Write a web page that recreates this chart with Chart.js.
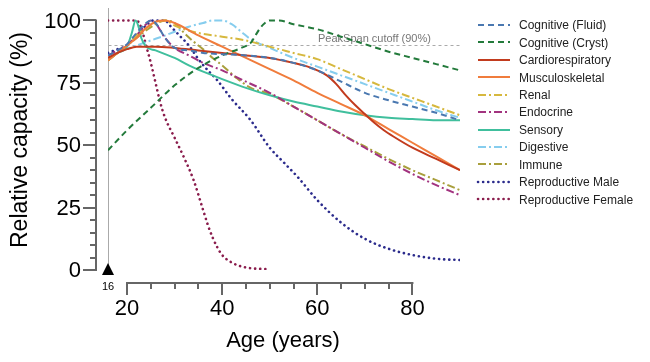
<!DOCTYPE html>
<html>
<head>
<meta charset="utf-8">
<script src="https://cdn.jsdelivr.net/npm/chart.js@4.4.1/dist/chart.umd.min.js"></script>
<style>
  body { margin: 0; background: #fff; }
  canvas { display: block; }
</style>
</head>
<body>
<canvas id="grafico" width="650" height="362"></canvas>
<script>
// valores (idade, capacidade relativa %)
const fluidAge = [16, 18, 20, 22, 24, 25, 26, 28, 30, 33, 36, 40, 45, 50, 55, 60, 65, 70, 75, 80, 85, 90];
const fluidVal = [86, 88, 90.5, 95, 99, 100, 99, 93, 89, 88, 87, 86.5, 86, 85, 83, 80, 75.5, 71, 68, 65.5, 63, 60];

const crystAge = [16, 20, 25, 30, 35, 40, 44, 46, 47, 48, 49, 50, 52, 55, 60, 65, 70, 75, 80, 85, 90];
const crystVal = [48, 56, 65, 74, 81, 86, 89, 91, 94, 97, 99, 100, 100, 98.5, 96.5, 93.5, 90.5, 87.5, 85, 82.5, 80];

const cardioAge = [16, 18, 20, 22, 24, 26, 30, 35, 40, 45, 50, 55, 58, 60, 62, 64, 66, 68, 70, 72, 74, 76, 80, 85, 90];
const cardioVal = [85, 87, 88.5, 89.5, 89.5, 89.5, 89, 88, 87, 86, 85, 83, 81.5, 80, 78, 74.5, 70, 66, 62.5, 59, 56, 53.5, 49, 44.5, 40];

const musculoAge = [16, 18, 20, 22, 24, 26, 28, 30, 35, 40, 45, 50, 55, 60, 65, 70, 75, 80, 85, 90];
const musculoVal = [84, 87, 90, 93, 97, 99.5, 100, 99, 94, 89.5, 85, 80.5, 76, 71, 66.5, 62, 56.5, 51, 45.5, 40];

const renalAge = [16, 18, 20, 22, 24, 26, 28, 30, 32, 35, 40, 45, 50, 55, 60, 65, 70, 75, 80, 85, 90];
const renalVal = [84, 87, 90, 94, 97, 99, 100, 98, 96.5, 95, 93.5, 92, 89.5, 87, 84.5, 80.5, 76.5, 72.5, 69, 65.5, 62];

const endoAge = [16, 18, 20, 22, 24, 25, 26, 27, 28, 30, 33, 36, 40, 45, 50, 55, 60, 65, 70, 75, 80, 85, 90];
const endoVal = [86, 88, 90, 94, 98.5, 100, 99, 96, 93, 89, 86, 83, 80, 75.5, 71, 65.5, 60, 54.5, 49, 43.5, 38.5, 34, 30];

const sensoryAge = [16, 18, 20, 21, 21.8, 22.5, 23, 24, 26, 28, 30, 33, 36, 40, 45, 50, 55, 60, 65, 70, 75, 80, 85, 90];
const sensoryVal = [84, 87, 89.5, 95, 100, 97, 93, 89.5, 88, 86.5, 85, 82, 79.5, 76.5, 73, 70, 67.5, 65.5, 63.5, 62, 61, 60.5, 60, 60];

const digestAge = [16, 19, 22, 25, 28, 30, 33, 36, 38, 40, 42, 44, 46, 50, 55, 60, 65, 70, 75, 80, 85, 90];
const digestVal = [86, 88, 90, 92, 94, 95.5, 97.5, 99, 100, 100, 98.5, 95.5, 92.5, 89, 85, 81.5, 78, 74.5, 71, 67.5, 64, 61];

const immuneAge = [16, 18, 20, 22, 24, 26, 28, 30, 32, 34, 36, 38, 40, 43, 46, 50, 55, 60, 65, 70, 75, 80, 85, 90];
const immuneVal = [84, 87, 90, 93, 96, 98.5, 100, 99, 95, 91.5, 88.5, 85, 82, 77, 73, 70.5, 65.5, 60, 54.5, 49.5, 44.5, 40, 36, 32];

const maleAge = [16, 18, 20, 22, 24, 25.5, 28, 29, 31, 33, 35, 37, 39, 42, 46, 50, 53, 56, 60, 65, 70, 75, 80, 85, 90];
const maleVal = [87, 88.5, 90, 94, 98, 100, 100, 98, 94, 90, 84.5, 80, 76, 68.5, 60, 49, 43, 37, 28, 19, 12.5, 8.5, 6, 4.5, 4];

const femaleAge = [16, 22, 23, 24, 25, 26, 27, 28, 30, 32, 34, 36, 37, 38, 39, 40, 42, 45, 50];
const femaleVal = [100, 100, 97, 90, 83, 75, 67, 61, 53, 45, 36, 24, 18, 13, 9, 6, 3, 1, 0.3];

const cutoff = 90;
const yTicks = [0, 25, 50, 75, 100];
const xTicks = [20, 40, 60, 80];
const startAge = 16;

const pontos = (idades, valores) => idades.map((a, i) => ({ x: a, y: valores[i] }));

const tracejado = [6, 4];
const traçoPonto = [8, 3, 2, 3];
const pontilhado = [0.1, 5];

function serie(label, idades, valores, cor, dash, largura) {
    return {
        label: label,
        data: pontos(idades, valores),
        borderColor: cor,
        borderWidth: largura || 2,
        borderDash: dash,
        borderCapStyle: dash === pontilhado ? 'round' : 'butt',
        pointRadius: 0,
        fill: false,
        cubicInterpolationMode: 'monotone'
    };
}

const datasets = [
    serie('Cognitive (Fluid)', fluidAge, fluidVal, '#4a78b0', tracejado),
    serie('Cognitive (Cryst)', crystAge, crystVal, '#237a3b', tracejado),
    serie('Cardiorespiratory', cardioAge, cardioVal, '#c23b1e', []),
    serie('Musculoskeletal', musculoAge, musculoVal, '#f07c3c', []),
    serie('Renal', renalAge, renalVal, '#d6b83e', traçoPonto),
    serie('Endocrine', endoAge, endoVal, '#a2337f', traçoPonto),
    serie('Sensory', sensoryAge, sensoryVal, '#40bf9d', []),
    serie('Digestive', digestAge, digestVal, '#86cdee', traçoPonto),
    serie('Immune', immuneAge, immuneVal, '#a99f3c', traçoPonto),
    serie('Reproductive Male', maleAge, maleVal, '#2b2b8c', pontilhado, 2.6),
    serie('Reproductive Female', femaleAge, femaleVal, '#8a1c4c', pontilhado, 2.6)
];

const fonte = '"Liberation Sans", Arial, sans-serif';

// fundo: linha vertical em 16 e linha de corte 90%
const fundo = {
    id: 'fundo',
    beforeDatasetsDraw(chart) {
        const { ctx, chartArea, scales: { x, y } } = chart;
        ctx.save();
        ctx.strokeStyle = '#aaaaaa';
        ctx.lineWidth = 1;
        const x16 = Math.round(x.getPixelForValue(startAge)) + 0.5;
        ctx.beginPath();
        ctx.moveTo(x16, chartArea.top);
        ctx.lineTo(x16, y.getPixelForValue(0));
        ctx.stroke();

        const yc = Math.round(y.getPixelForValue(cutoff)) + 0.5;
        ctx.setLineDash([3, 3]);
        ctx.beginPath();
        ctx.moveTo(x16, yc);
        ctx.lineTo(x.getPixelForValue(90), yc);
        ctx.stroke();
        ctx.setLineDash([]);

        ctx.fillStyle = '#777777';
        ctx.font = '11px ' + fonte;
        ctx.textAlign = 'left';
        ctx.textBaseline = 'alphabetic';
        ctx.fillText('PeakSpan cutoff (90%)', 318, yc - 4);
        ctx.restore();
    }
};

// eixos separados (estilo despine), marcador e legenda
const eixos = {
    id: 'eixos',
    afterDraw(chart) {
        const { ctx, scales: { x, y } } = chart;
        ctx.save();
        ctx.strokeStyle = '#666666';
        ctx.lineWidth = 2;

        // eixo Y
        const ex = 96;
        ctx.beginPath();
        ctx.moveTo(ex, y.getPixelForValue(0) + 1);
        ctx.lineTo(ex, y.getPixelForValue(100) - 1);
        ctx.stroke();
        for (let v = 0; v <= 100; v += 5) {
            const py = Math.round(y.getPixelForValue(v));
            const len = v % 25 === 0 ? 13 : 6;
            ctx.beginPath();
            ctx.moveTo(ex, py);
            ctx.lineTo(ex - len, py);
            ctx.stroke();
        }
        ctx.fillStyle = '#000';
        ctx.font = '22px ' + fonte;
        ctx.textAlign = 'right';
        ctx.textBaseline = 'middle';
        yTicks.forEach(v => ctx.fillText(String(v), 81, y.getPixelForValue(v) + 1));

        // eixo X
        const ey = 283;
        ctx.beginPath();
        ctx.moveTo(x.getPixelForValue(20) - 1, ey);
        ctx.lineTo(x.getPixelForValue(80) + 1, ey);
        ctx.stroke();
        for (let a = 20; a <= 80; a += 5) {
            const px = Math.round(x.getPixelForValue(a));
            const len = a % 20 === 0 ? 12 : 6;
            ctx.beginPath();
            ctx.moveTo(px, ey);
            ctx.lineTo(px, ey + len);
            ctx.stroke();
        }
        ctx.textAlign = 'center';
        xTicks.forEach(a => ctx.fillText(String(a), x.getPixelForValue(a), 309));

        // títulos
        ctx.font = '22px ' + fonte;
        ctx.fillText('Age (years)', 283, 341);
        ctx.save();
        ctx.translate(21, 140);
        ctx.rotate(-Math.PI / 2);
        ctx.font = '23px ' + fonte;
        ctx.fillText('Relative capacity (%)', 0, 0);
        ctx.restore();

        // marcador da idade inicial
        const mx = x.getPixelForValue(startAge);
        const my = y.getPixelForValue(0);
        ctx.beginPath();
        ctx.moveTo(mx, my - 7);
        ctx.lineTo(mx + 6, my + 5);
        ctx.lineTo(mx - 6, my + 5);
        ctx.closePath();
        ctx.fill();
        ctx.font = '11px ' + fonte;
        ctx.fillText(String(startAge), mx, my + 17);

        // legenda
        ctx.font = '12px ' + fonte;
        ctx.textAlign = 'left';
        chart.data.datasets.forEach((ds, i) => {
            const ly = 25 + i * 17.43;
            ctx.strokeStyle = ds.borderColor;
            ctx.lineWidth = ds.borderWidth;
            ctx.lineCap = ds.borderCapStyle;
            ctx.setLineDash(ds.borderDash);
            ctx.beginPath();
            ctx.moveTo(478, Math.round(ly));
            ctx.lineTo(510, Math.round(ly));
            ctx.stroke();
            ctx.setLineDash([]);
            ctx.fillStyle = '#222';
            ctx.fillText(ds.label, 519, ly + 1);
        });
        ctx.restore();
    }
};

new Chart(document.getElementById('grafico'), {
    type: 'line',
    data: { datasets: datasets },
    options: {
        responsive: false,
        animation: false,
        layout: { padding: { left: 108, right: 190, top: 8, bottom: 92 } },
        plugins: { legend: { display: false }, tooltip: { enabled: false } },
        scales: {
            x: { type: 'linear', min: 16, max: 90, display: false },
            y: { min: 0, max: 105, display: false }
        }
    },
    plugins: [fundo, eixos]
});
</script>
</body>
</html>
